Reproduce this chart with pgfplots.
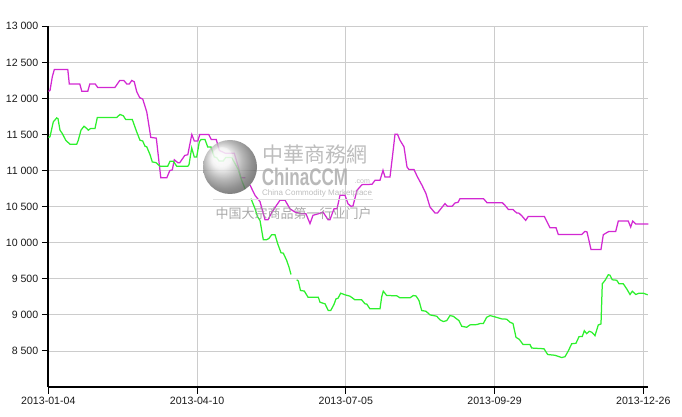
\documentclass[border=0pt]{standalone}
\usepackage{pgfplots}
\pgfplotsset{compat=1.18}
\usepackage{fontspec}
\setmainfont{Liberation Sans}
\newfontfamily\cjk{Noto Sans CJK SC}
\definecolor{magC}{RGB}{210,40,210}
\definecolor{grnC}{RGB}{45,240,45}
\begin{document}
\begin{tikzpicture}
\begin{axis}[
  scale only axis, width=600bp, height=360.7bp,
  xmin=48.3, xmax=648.3, ymin=8000, ymax=13000,
  axis x line=bottom, axis y line=left,
  axis line style={-, line width=2bp, black},
  xtick={48.3,197.05,345.8,494.55,643.3},
  xticklabels={2013-01-04,2013-04-10,2013-07-05,2013-09-29,2013-12-26},
  ytick={8500,9000,9500,10000,10500,11000,11500,12000,12500,13000},
  yticklabels={8 500,9 000,9 500,10 000,10 500,11 000,11 500,12 000,12 500,13 000},
  scaled y ticks=false, scaled x ticks=false,
  tick align=outside, major tick length=6.5bp,
  tick style={black, line width=0.9bp},
  grid=major, major grid style={draw=black!20, line width=0.8bp},
  tick label style={font=\fontsize{10.6bp}{12bp}\selectfont, text=black!90},
  unbounded coords=jump,
]
\addplot[magC, line width=1.25bp] coordinates {
(48.3,12100) (50,12110) (52.3,12300) (54.3,12400) (67.8,12400) (69.3,12200) (79.8,12200) (81.8,12100) (87.8,12100) (89.8,12200) (95.3,12200) (97.8,12150) (114.8,12150) (119.8,12250) (123.8,12250) (126.8,12200) (129.3,12200) (131.8,12250) (134.3,12230) (136.8,12090) (139.8,12010) (142.8,11990) (146.8,11810) (150.8,11460) (156.3,11450) (160.8,10900) (166.8,10900) (169.8,11000) (172.3,11010) (174.3,11150) (177.8,11110) (179.8,11110) (184.8,11210) (187.8,11220) (191.8,11500) (194.3,11410) (197.8,11410) (199.8,11500) (208.8,11500) (211.3,11430) (216.3,11430) (219.3,11280) (225.3,11240) (234.3,11240) (238.3,11050) (240.8,10900) (245.3,10900) (247.5,nan) (250,10800) (255,10657) (260,10570) (263,10420) (265,10320) (268,10320) (272,10425) (280,10590) (285,10590) (290,10470) (295,10425) (302,10400) (306,10400) (310,10265) (313,10380) (318,10400) (323,10425) (328,10320) (330,10320) (334,10470) (337,10470) (340,10657) (345,10657) (348,10540) (351,10505) (353,10510) (357,10727) (362,10805) (372,10810) (375,10865) (380,10865) (383,11004) (385,10911) (390,10911) (392.5,11200) (395,11504) (397.5,11504) (400,11420) (404,11330) (407,11050) (409,11014) (414,11014) (417.5,10911) (422,10796) (426,10680) (430,10495) (435,10412) (437.5,10412) (445,10542) (447.5,10504) (452,10504) (455,10551) (458,10560) (460,10611) (483.5,10611) (487,10555) (502.3,10555) (505,10518) (508.3,10462) (513,10460) (516.7,10412) (519,10410) (522.3,10365) (525.7,10310) (528.3,10365) (544.3,10365) (550,10208) (556,10208) (558.3,10115) (581.7,10115) (585,10157) (587,10150) (591,9907) (601,9907) (603.3,10111) (606.7,10139) (609,10157) (615.7,10157) (618.3,10300) (628.3,10300) (630.7,10217) (632.7,10300) (635.7,10260) (648.3,10260)
};
\addplot[grnC, line width=1.25bp] coordinates {
(48.3,11458) (50,11470) (53.3,11675) (56.7,11730) (58,11720) (60,11560) (62.3,11514) (65.7,11421) (70,11365) (76.7,11365) (78.3,11421) (81,11560) (84,11615) (86.7,11584) (88.3,11560) (90.7,11584) (95,11584) (97.3,11736) (116.7,11736) (120,11778) (123.3,11760) (125.7,11708) (132.3,11708) (136.7,11536) (140,11421) (142.7,11410) (145,11338) (146.7,11330) (150,11222) (152.3,11120) (156,11110) (160,11060) (167.7,11060) (170,11129) (173.3,11130) (176.7,11060) (187.7,11060) (189,11080) (191.7,11314) (194.3,11189) (196.7,11189) (199.3,11397) (201,11430) (205,11430) (207.7,11328) (211,11328) (214.3,11189) (216.7,11180) (219,11134) (223.3,11134) (225.7,11180) (231.7,11180) (235,11097) (238.3,11014) (241.7,10865) (245,10750) (248,nan) (251,10611) (255,10472) (257.7,10356) (260,10310) (263.3,10042) (266.7,10042) (269,10060) (271.7,10111) (275,10111) (277.7,9986) (281,9861) (283.3,9855) (286.7,9754) (289,9661) (291,9560) (294,nan) (296.7,9486) (298.3,9470) (300.5,9338) (304.3,9330) (308,9245) (318.3,9245) (320,9175) (325,9153) (328.3,9060) (330.7,9060) (334,9145) (336,9222) (338,9230) (340.7,9300) (345,9278) (350,9259) (355,9208) (361.7,9208) (365,9153) (366.7,9150) (370,9083) (380,9083) (381.7,9250) (383.3,9328) (386.7,9268) (396.7,9265) (400,9236) (410,9236) (413.3,9268) (416,9262) (419,9199) (421.7,9060) (426,9050) (430,9000) (436.7,8981) (440,8931) (443.3,8907) (446.7,8920) (450,8990) (453.3,8980) (456.7,8944) (459,8920) (461.7,8842) (466.7,8828) (470,8861) (476.7,8865) (480,8879) (483.3,8879) (486.7,8967) (490,8990) (495,8972) (501.7,8944) (506.7,8940) (510,8898) (513,8880) (516,8689) (519.3,8660) (523,8590) (530,8588) (531.7,8540) (544,8530) (547.7,8450) (555,8440) (561.7,8408) (565,8420) (568.3,8500) (571.7,8600) (576,8606) (579,8698) (582.3,8700) (584.3,8780) (586.7,8740) (589.3,8772) (591.7,8760) (595,8712) (598.3,8860) (601,8875) (602.3,9431) (605,9477) (608.3,9556) (610,9550) (612.3,9486) (616.7,9480) (619,9431) (623.3,9430) (626.7,9361) (630,9282) (632.3,9328) (635.7,9282) (639,9300) (643.3,9300) (647.7,9278)
};
\end{axis}
% watermark
\begin{scope}
\shade[ball color=black!8, opacity=0.8] (181.7bp,220bp) circle (27bp);
\fill[white, opacity=0.3] (174bp,230bp) circle (10bp);
\node[text=black!30, opacity=0.85, font=\cjk\fontsize{21bp}{22bp}\selectfont, inner sep=0pt] at (266.7bp,232bp) {中華商務網};
\node[text=black!32, opacity=0.85, font=\bfseries\fontsize{24bp}{26bp}\selectfont, inner sep=0pt] at (256.7bp,210bp) {\scalebox{0.71}[1]{ChinaCCM}};
\node[text=black!30, opacity=0.85, font=\fontsize{7bp}{8bp}\selectfont, inner sep=0pt] at (314bp,205bp) {.com};
\node[text=black!30, opacity=0.85, inner sep=0pt] at (268.7bp,193.5bp) {\resizebox{110bp}{!}{China Commodity Marketplace}};
\draw[black!12, line width=1bp] (164.7bp,187bp) -- (324.7bp,187bp);
\node[text=black!40, opacity=0.85, font=\cjk\fontsize{13bp}{14bp}\selectfont, inner sep=0pt] at (245.2bp,173.5bp) {中国大宗商品第一行业门户};
\end{scope}
\pgfresetboundingbox
\path[use as bounding box] (-48.3bp,-30bp) rectangle (633.7bp,387bp);
\end{tikzpicture}
\end{document}
